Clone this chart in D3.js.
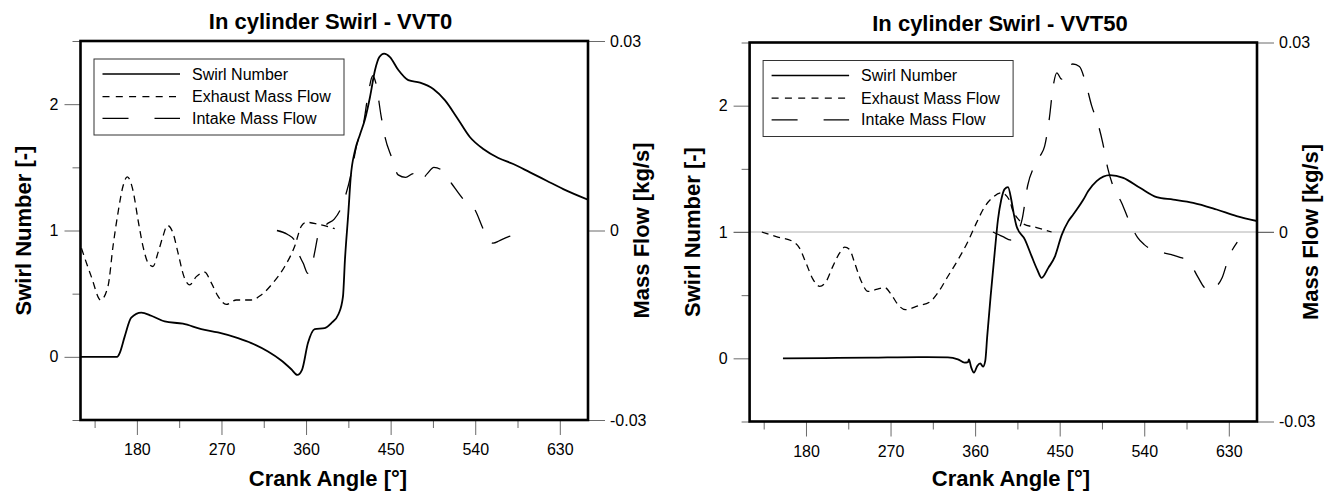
<!DOCTYPE html>
<html>
<head>
<meta charset="utf-8">
<script src="https://cdn.jsdelivr.net/npm/d3@7"></script>
<style>
  html, body { margin: 0; padding: 0; background: #fff; }
  svg { display: block; font-family: "Liberation Sans", Arial, sans-serif; }
</style>
</head>
<body>
<svg id="chart" width="1337" height="492"></svg>
<script>
// ---------------- data ----------------
const titles = ["In cylinder Swirl - VVT0", "In cylinder Swirl - VVT50"];
const legendLabels = ["Swirl Number", "Exhaust Mass Flow", "Intake Mass Flow"];
const xTitle = "Crank Angle [°]";
const yLeftTitle = "Swirl Number [-]";
const yRightTitle = "Mass Flow [kg/s]";

const angleMajor = [180, 270, 360, 450, 540, 630];
const angleMinor = [135, 225, 315, 405, 495, 585];
const swirlMajor = [0, 1, 2];
const swirlMinor = [-0.5, 0.5, 1.5, 2.5];
const flowTicks = [-0.03, 0, 0.03];

// [crank angle, swirl number]
const vvt0Swirl = [
  [120,0],[159,0],[161.7,0.03],[167,0.16],[174,0.31],[184.7,0.35],[195.3,0.325],[209.6,0.28],
  [229,0.262],[248.5,0.22],[266.3,0.193],[287.6,0.148],[301.8,0.109],[319.5,0.042],[333.7,-0.029],
  [344.3,-0.098],[350.7,-0.143],[355.7,-0.103],[362,0.109],[369.2,0.22],[379.8,0.228],[386.9,0.267],
  [394.7,0.341],[399.3,0.479],[401.4,0.77],[405,1.14],[407.5,1.42],[412,1.63],[417.4,1.76],
  [422.7,1.88],[428,2.055],[433.4,2.27],[438,2.373],[443,2.4],[449.3,2.373],[458.2,2.27],
  [468.8,2.19],[481.3,2.17],[495.4,2.12],[507.9,2.03],[520.3,1.897],[534.5,1.738],[548.6,1.645],
  [564.6,1.574],[580.5,1.526],[598.3,1.46],[616,1.394],[633.7,1.328],[660,1.244]
];
// [crank angle, mass flow kg/s]
const vvt0Exhaust = [
  [121,-0.0028],[131.5,-0.0073],[141.5,-0.0110],[149.3,-0.0088],[154.6,-0.0025],[159.9,0.0028],
  [165.2,0.0070],[169.8,0.0085],[175.9,0.0063],[181.2,0.0017],[186.5,-0.0025],[191.8,-0.0051],
  [197.1,-0.0057],[202.5,-0.0035],[207.8,-0.0009],[212.4,0.0008],[218.4,-0.0004],[223.7,-0.0035],
  [230.1,-0.0073],[236.2,-0.0086],[243.2,-0.0073],[252.1,-0.0066],[259.2,-0.0083],[266.3,-0.0104],
  [275.1,-0.0117],[285.8,-0.0110],[301.7,-0.0110],[312.4,-0.0102],[324.8,-0.0083],[337.3,-0.0057],
  [347.9,-0.0025],[355,0.0007],[360.3,0.0013],[372.7,0.0010],[390.5,0.0003]
];
const vvt0Intake = [
  [329,0.0000],[340,-0.0006],[348,-0.0016],[352,-0.0036],[357,-0.0052],[362,-0.0068],[365,-0.0064],
  [369,-0.0036],[373.5,-0.0004],[382,0.0010],[390,0.0018],[399,0.0042],[408,0.0090],[414,0.0136],
  [421,0.0168],[426,0.0215],[431,0.0245],[434,0.0235],[440,0.0180],[444,0.0148],[451,0.0116],
  [458,0.0088],[466,0.0084],[474,0.0090],[481,0.0078],[489,0.0090],[496,0.0100],[504,0.0096],
  [515,0.0074],[527,0.0050],[540,0.0032],[548,0.0004],[553,-0.0012],[559,-0.0020],[566,-0.0016],
  [575,-0.0010],[585,-0.0006],[595,-0.0004]
];

const vvt50Swirl = [
  [155.5,0],[200,0.002],[250,0.006],[300,0.01],[331,0.008],[341.7,-0.008],[348.9,-0.034],
  [352.4,-0.03],[353.4,-0.008],[355.9,-0.074],[358.8,-0.113],[362.3,-0.06],[365.5,-0.04],
  [368.4,-0.066],[370.8,-0.02],[372.9,0.176],[376.5,0.49],[380.8,0.834],[384.3,1.097],
  [387.8,1.255],[391.4,1.34],[395,1.355],[398.5,1.255],[401,1.15],[404.2,1.044],[413,0.94],
  [420.2,0.807],[426.1,0.702],[430.8,0.637],[437.9,0.716],[445,0.807],[452.1,0.975],[459.1,1.084],
  [464.4,1.139],[468,1.176],[475.1,1.255],[480.4,1.324],[489.3,1.403],[503.5,1.45],[517.6,1.429],
  [535.4,1.35],[553.2,1.276],[570.9,1.257],[592.1,1.231],[617,1.178],[638.3,1.126],[660,1.087]
];
const vvt50Exhaust = [
  [133,0.0000],[150,-0.0008],[166,-0.0015],[173,-0.0025],[180,-0.0049],[187.5,-0.0075],
  [194.6,-0.0086],[201.6,-0.0078],[208.7,-0.0054],[215.9,-0.0033],[221.2,-0.0024],[226.5,-0.0028],
  [231.8,-0.0049],[238.8,-0.0078],[246,-0.0094],[254.8,-0.0091],[263.8,-0.0088],[270.8,-0.0099],
  [277.9,-0.0115],[285.7,-0.0123],[299.2,-0.0117],[311.6,-0.0111],[320.5,-0.0096],[331.1,-0.0070],
  [341.8,-0.0044],[352.4,-0.0015],[361.3,0.0014],[370.2,0.0040],[379,0.0055],[387.8,0.0062],
  [396.7,0.0050],[400,0.0034],[404,0.0024],[408,0.0017],[411,0.0013],[425.5,0.0007],[441.4,0.0000]
];
const vvt50Intake = [
  [379,0.0000],[389,-0.0007],[398.5,-0.0013],[403,-0.0006],[410,0.0020],[416,0.0074],[423,0.0104],
  [429,0.0120],[434,0.0136],[439,0.0180],[443,0.0230],[447,0.0252],[452,0.0242],[457,0.0256],
  [464,0.0266],[471,0.0262],[478,0.0234],[484,0.0200],[491,0.0170],[496,0.0140],[501,0.0102],
  [507,0.0072],[516,0.0046],[524,0.0017],[533,-0.0009],[540,-0.0020],[548,-0.0028],[558,-0.0032],
  [569,-0.0036],[578,-0.0040],[587,-0.0046],[597,-0.0071],[604,-0.0088],[610,-0.0093],
  [617,-0.0086],[623,-0.0072],[630,-0.0040],[639,-0.0016]
];

// ---------------- layout ----------------
const panels = [
  { title: titles[0], swirl: vvt0Swirl, exhaust: vvt0Exhaust, intake: vvt0Intake,
    left: 80.5, right: 588, top: 41, bottom: 420, zeroLine: false,
    titleX: 330.5, titleY: 29, xTitleX: 328 },
  { title: titles[1], swirl: vvt50Swirl, exhaust: vvt50Exhaust, intake: vvt50Intake,
    left: 749.6, right: 1257, top: 42.5, bottom: 421.5, zeroLine: true,
    titleX: 1000, titleY: 31, xTitleX: 1011 }
];

const svg = d3.select("#chart");
svg.append("rect").attr("width", 1337).attr("height", 492).attr("fill", "#fff");

function styleAxis(g) {
  g.select(".domain").remove();
  g.selectAll(".tick line").attr("stroke", "#6a6a6a").attr("stroke-width", 1);
  g.selectAll(".tick text").attr("fill", "#000").attr("font-size", 16)
    .attr("font-family", "'Liberation Sans', Arial, sans-serif");
}

panels.forEach((p, i) => {
  const g = svg.append("g");
  const x = d3.scaleLinear().domain([120, 660]).range([p.left, p.right]);
  const yS = d3.scaleLinear().domain([-0.5, 2.5]).range([p.bottom, p.top]);
  const yF = d3.scaleLinear().domain([-0.03, 0.03]).range([p.bottom, p.top]);

  // zero flow line
  if (p.zeroLine) {
    g.append("line")
      .attr("x1", p.left - 16).attr("x2", p.right + 17)
      .attr("y1", yF(0)).attr("y2", yF(0))
      .attr("stroke", "#b0b0b0").attr("stroke-width", 1);
  }

  // axes
  g.append("g").attr("transform", `translate(${p.left},0)`)
    .call(d3.axisLeft(yS).tickValues(swirlMajor).tickSize(16).tickPadding(6).tickFormat(d3.format("d")))
    .call(styleAxis);
  g.append("g").attr("transform", `translate(${p.left},0)`)
    .call(d3.axisLeft(yS).tickValues(swirlMinor).tickSize(8).tickFormat(""))
    .call(styleAxis);
  g.append("g").attr("transform", `translate(${p.right},0)`)
    .call(d3.axisRight(yF).tickValues(flowTicks).tickSize(17).tickPadding(5)
      .tickFormat(d => d === 0 ? "0" : d.toFixed(2)))
    .call(styleAxis);
  g.append("g").attr("transform", `translate(0,${p.bottom})`)
    .call(d3.axisBottom(x).tickValues(angleMajor).tickSize(15).tickPadding(9).tickFormat(d3.format("d")))
    .call(styleAxis);
  g.append("g").attr("transform", `translate(0,${p.bottom})`)
    .call(d3.axisBottom(x).tickValues(angleMinor).tickSize(8).tickFormat(""))
    .call(styleAxis);

  // clip
  const clipId = "clip" + i;
  svg.append("clipPath").attr("id", clipId).append("rect")
    .attr("x", p.left).attr("y", p.top).attr("width", p.right - p.left).attr("height", p.bottom - p.top);

  const plot = g.append("g").attr("clip-path", `url(#${clipId})`);
  const lineS = d3.line().x(d => x(d[0])).y(d => yS(d[1])).curve(d3.curveMonotoneX);
  const lineF = d3.line().x(d => x(d[0])).y(d => yF(d[1])).curve(d3.curveMonotoneX);

  plot.append("path").datum(p.exhaust).attr("d", lineF)
    .attr("fill", "none").attr("stroke", "#000").attr("stroke-width", 1.3)
    .attr("stroke-dasharray", "7,5");
  plot.append("path").datum(p.intake).attr("d", lineF)
    .attr("fill", "none").attr("stroke", "#000").attr("stroke-width", 1.3)
    .attr("stroke-dasharray", "20,17");
  plot.append("path").datum(p.swirl).attr("d", lineS)
    .attr("fill", "none").attr("stroke", "#000").attr("stroke-width", 1.8);

  // frame
  g.append("rect").attr("x", p.left).attr("y", p.top)
    .attr("width", p.right - p.left).attr("height", p.bottom - p.top)
    .attr("fill", "none").attr("stroke", "#000").attr("stroke-width", 2.6);

  // legend
  const lg = g.append("g").attr("transform", `translate(${p.left + 13.5},${p.top + 18})`);
  lg.append("rect").attr("width", 250).attr("height", 76)
    .attr("fill", "#fff").attr("stroke", "#333").attr("stroke-width", 1);
  const rows = [15, 37.7, 59.3];
  const dashes = [null, "7,6.3", "26,26"];
  legendLabels.forEach((lab, k) => {
    lg.append("line").attr("x1", 8.5).attr("x2", 86).attr("y1", rows[k]).attr("y2", rows[k])
      .attr("stroke", "#000").attr("stroke-width", k === 0 ? 1.5 : 1.3)
      .attr("stroke-dasharray", dashes[k]);
    lg.append("text").attr("x", 98).attr("y", rows[k]).attr("dy", "0.35em")
      .attr("font-size", 16).attr("fill", "#000").text(lab);
  });

  // titles
  g.append("text").attr("x", p.titleX).attr("y", p.titleY).attr("text-anchor", "middle")
    .attr("font-size", 22).attr("font-weight", "bold").text(p.title);
  g.append("text").attr("x", p.xTitleX).attr("y", 486).attr("text-anchor", "middle")
    .attr("font-size", 22).attr("font-weight", "bold").text(xTitle);
  const cy = (p.top + p.bottom) / 2;
  g.append("text").attr("transform", `translate(${p.left - 50},${cy}) rotate(-90)`)
    .attr("text-anchor", "middle").attr("font-size", 22).attr("font-weight", "bold").text(yLeftTitle);
  g.append("text").attr("transform", `translate(${p.right + 61},${cy}) rotate(-90)`)
    .attr("text-anchor", "middle").attr("font-size", 22).attr("font-weight", "bold").text(yRightTitle);
});
</script>
</body>
</html>
